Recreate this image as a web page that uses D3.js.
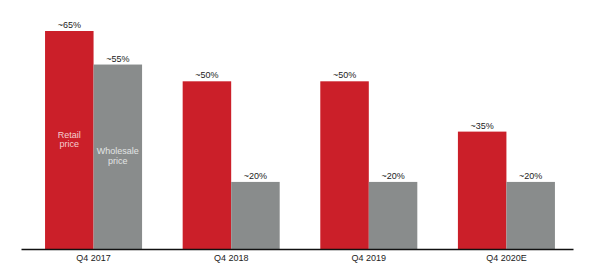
<!DOCTYPE html>
<html>
<head>
<meta charset="utf-8">
<script src="https://cdn.jsdelivr.net/npm/d3@7"></script>
<style>
  html, body { margin: 0; padding: 0; background: #fff; }
  text { font-family: "Liberation Sans", Arial, sans-serif; }
</style>
</head>
<body>
<div id="chart"></div>
<script>
// data
const quarters = ['Q4 2017', 'Q4 2018', 'Q4 2019', 'Q4 2020E'];
const retail = [65, 50, 50, 35];
const wholesale = [55, 20, 20, 20];
const valueLabels = {
  retail: ['~65%', '~50%', '~50%', '~35%'],
  wholesale: ['~55%', '~20%', '~20%', '~20%']
};
const seriesKeys = ['retail', 'wholesale'];
const seriesNames = { retail: ['Retail', 'price'], wholesale: ['Wholesale', 'price'] };

const W = 600, H = 271;
const baseY = 249;

const svg = d3.select('#chart').append('svg')
  .attr('width', W)
  .attr('height', H);

const x = d3.scaleBand()
  .domain(quarters)
  .range([21, 573])
  .paddingInner(0.295)
  .paddingOuter(0.153)
  .align(0.571);

const xs = d3.scaleBand()
  .domain(seriesKeys)
  .range([0, x.bandwidth()]);

const y = d3.scaleLinear()
  .domain([0, 65])
  .range([baseY, 31]);

const colors = { retail: '#cb1f29', wholesale: '#898c8c' };
const innerText = { retail: '#f5cdd0', wholesale: '#e2e4e4' };

const rows = quarters.map((q, i) => ({ q, retail: retail[i], wholesale: wholesale[i], i }));

const groups = svg.append('g').selectAll('g')
  .data(rows)
  .join('g')
  .attr('transform', d => `translate(${x(d.q)},0)`);

groups.selectAll('rect')
  .data(d => seriesKeys.map(k => ({ key: k, value: d[k], i: d.i })))
  .join('rect')
  .attr('x', d => xs(d.key))
  .attr('y', d => y(d.value))
  .attr('width', xs.bandwidth())
  .attr('height', d => baseY - y(d.value))
  .attr('fill', d => colors[d.key]);

groups.selectAll('text.val')
  .data(d => seriesKeys.map(k => ({ key: k, value: d[k], i: d.i })))
  .join('text')
  .attr('class', 'val')
  .attr('x', d => xs(d.key) + xs.bandwidth() / 2)
  .attr('y', d => y(d.value) - 3)
  .attr('text-anchor', 'middle')
  .style('font-size', '9px')
  .attr('fill', '#222')
  .text(d => valueLabels[d.key][d.i]);

// series names inside the first group
const first = groups.filter(d => d.i === 0);
first.append('text')
  .attr('x', xs('retail') + xs.bandwidth() / 2)
  .attr('y', 137.5)
  .attr('text-anchor', 'middle')
  .style('font-size', '9px')
  .attr('fill', innerText.retail)
  .selectAll('tspan')
  .data(seriesNames.retail)
  .join('tspan')
  .attr('x', xs('retail') + xs.bandwidth() / 2)
  .attr('dy', (d, i) => i ? 9.5 : 0)
  .text(d => d);

first.append('text')
  .attr('x', xs('wholesale') + xs.bandwidth() / 2)
  .attr('y', 154)
  .attr('text-anchor', 'middle')
  .style('font-size', '9px')
  .attr('fill', innerText.wholesale)
  .selectAll('tspan')
  .data(seriesNames.wholesale)
  .join('tspan')
  .attr('x', xs('wholesale') + xs.bandwidth() / 2)
  .attr('dy', (d, i) => i ? 10 : 0)
  .text(d => d);

// x axis
const axis = svg.append('g')
  .attr('transform', `translate(0,${baseY})`)
  .call(d3.axisBottom(x).tickSize(0).tickPadding(6));
axis.select('.domain')
  .attr('stroke', '#111')
  .attr('stroke-width', 1.6);
axis.selectAll('text')
  .style('font-family', '"Liberation Sans", Arial, sans-serif')
  .style('font-size', '9px')
  .attr('fill', '#222');
</script>
</body>
</html>
